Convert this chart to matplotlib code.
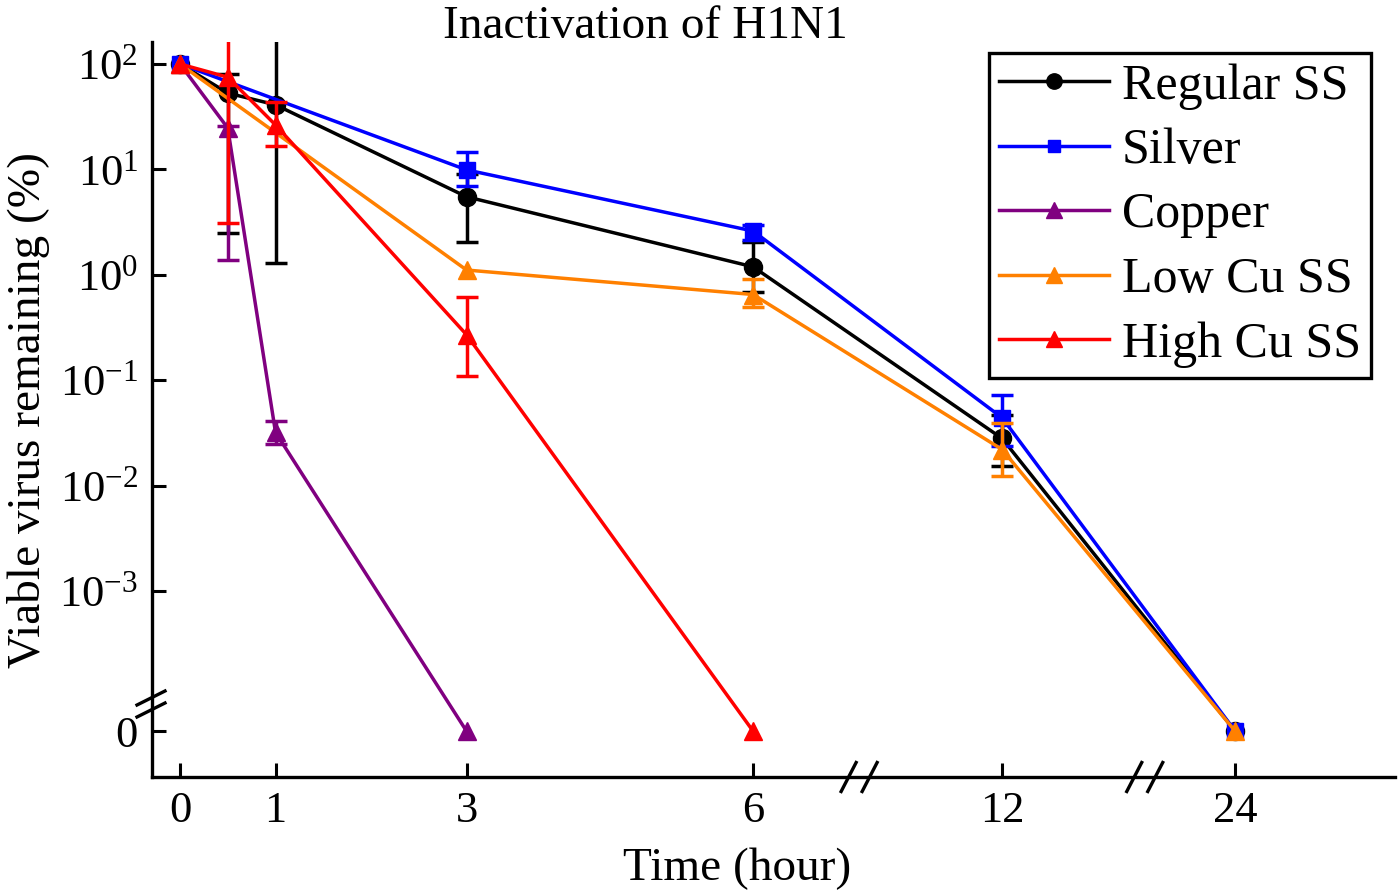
import numpy as np
import matplotlib
matplotlib.use('Agg')
import matplotlib.pyplot as plt

plt.rcParams['font.family'] = 'Liberation Serif'
plt.rcParams['mathtext.fontset'] = 'custom'
plt.rcParams['mathtext.rm'] = 'Liberation Serif'
plt.rcParams['mathtext.it'] = 'Liberation Serif:italic'

nan = np.nan

# data (percent remaining), bounds of error bars given as low / high values
time_ticks = [0, 1, 3, 6, 12, 24]

t_regular = [0, 0.5, 1, 3, 6, 12, 24]
regular = [100, 53, 41, 5.5, 1.19, 0.028, 0]
regular_lo = [nan, 2.5, 1.3, 2.05, 0.69, 0.0153, nan]
regular_hi = [nan, 80, 250, 9.0, 2.05, 0.047, nan]

t_silver = [0, 3, 6, 12, 24]
silver = [100, 9.9, 2.6, 0.044, 0]
silver_lo = [nan, 6.96, 2.14, 0.0235, nan]
silver_hi = [nan, 14.6, 3.0, 0.072, nan]

t_copper = [0, 0.5, 1, 3]
copper = [100, 24.7, 0.032, 0]
copper_lo = [nan, 1.38, 0.025, nan]
copper_hi = [nan, 26, 0.041, nan]

t_lowcu = [0, 3, 6, 12, 24]
lowcu = [100, 1.11, 0.65, 0.022, 0]
lowcu_lo = [nan, nan, 0.495, 0.0123, nan]
lowcu_hi = [nan, nan, 0.91, 0.039, nan]

t_highcu = [0, 0.5, 1, 3, 6]
highcu = [100, 75, 26.4, 0.27, 0]
highcu_lo = [nan, 3.1, 16.6, 0.11, nan]
highcu_hi = [nan, 250, 43.6, 0.62, nan]


# broken x axis: 0-6 linear, then compressed segments for 12 and 24 h
def x_fwd(t):
    t = np.asarray(t, float)
    return np.where(t <= 6, t,
                    np.where(t <= 12, 6 + (t - 6) * 2.607 / 6,
                             8.607 + (t - 12) * 2.44 / 12))


def x_inv(p):
    p = np.asarray(p, float)
    return np.where(p <= 6, p,
                    np.where(p <= 8.607, 6 + (p - 6) * 6 / 2.607,
                             12 + (p - 8.607) * 12 / 2.44))


# broken y axis: log decades, with 0 placed below 1e-3
ZERO_POS = -4.33
FLOOR = 1e-4


def y_fwd(v):
    v = np.asarray(v, float)
    return np.where(v >= FLOOR, np.log10(np.maximum(v, FLOOR)),
                    ZERO_POS + v / FLOOR * (-4 - ZERO_POS))


def y_inv(p):
    p = np.asarray(p, float)
    return np.where(p >= -4, 10.0 ** np.clip(p, -4, 10),
                    (p - ZERO_POS) / (-4 - ZERO_POS) * FLOOR)


fig = plt.figure(figsize=(14, 8.94), dpi=100)
ax = fig.add_axes([152 / 1400, 1 - 777 / 894, 1243 / 1400, 735 / 894])
ax.set_xscale('function', functions=(x_fwd, x_inv))
ax.set_yscale('function', functions=(y_fwd, y_inv))

series = [
    ('Regular SS', t_regular, regular, regular_lo, regular_hi, 'black', 'o', 13),
    ('Silver', t_silver, silver, silver_lo, silver_hi, '#0000ff', 's', 11),
    ('Copper', t_copper, copper, copper_lo, copper_hi, '#800080', '^', 13),
    ('Low Cu SS', t_lowcu, lowcu, lowcu_lo, lowcu_hi, '#ff8000', '^', 13),
    ('High Cu SS', t_highcu, highcu, highcu_lo, highcu_hi, '#ff0000', '^', 13),
]

for name, t, y, lo, hi, col, mk, ms in series:
    t = np.array(t, float)
    y = np.array(y, float)
    lo = np.array(lo, float)
    hi = np.array(hi, float)
    ax.plot(t, y, color=col, lw=2.5, marker=mk, ms=ms, label=name, zorder=3)
    ok = ~np.isnan(lo)
    ax.errorbar(t[ok], y[ok], yerr=[y[ok] - lo[ok], hi[ok] - y[ok]], fmt='none',
                ecolor=col, elinewidth=2.5, capsize=8, capthick=2.5, zorder=3)

ax.set_xlim(-0.293, float(x_inv(12.72)))
ax.set_ylim(float(y_inv(2 - (777 - 64) / 105.4)), float(y_inv(2 + 22 / 105.4)))

ax.set_xticks(time_ticks)
ax.set_xticklabels([str(v) for v in time_ticks])
ytick_vals = [100, 10, 1, 0.1, 0.01, 0.001, 0]
ax.set_yticks(ytick_vals)
ax.set_yticklabels([r'$10^{2}$', r'$10^{1}$', r'$10^{0}$', r'$10^{-1}$',
                    r'$10^{-2}$', r'$10^{-3}$', '0'])
ax.minorticks_off()

for side in ['top', 'right']:
    ax.spines[side].set_visible(False)
for side in ['left', 'bottom']:
    ax.spines[side].set_linewidth(2.4)
ax.tick_params(direction='in', length=10, width=2.2, labelsize=32, pad=10)

ax.set_xlabel('Time (hour)', fontsize=34)
ax.xaxis.set_label_coords((737 - 152) / 1243, -0.096)
ax.set_ylabel('Viable virus remaining (%)', fontsize=34)
ax.yaxis.set_label_coords(-0.082, 0.5)
fig.text(645 / 1400, 1 - 38 / 894, 'Inactivation of H1N1', fontsize=34,
         ha='center', va='baseline')

# axis break marks
W, H = 1243.0, 735.0
for pos in [7.11, 10.10]:
    cx = (pos + 0.293) / (12.72 + 0.293)
    for off in [-10.5, 10.5]:
        x0 = cx + (off - 7.5) / W
        x1 = cx + (off + 7.5) / W
        ax.plot([x0, x1], [-14.5 / H, 14.5 / H], transform=ax.transAxes,
                color='black', lw=2.4, clip_on=False)
cy = (777 - 704) / H
for off in [-6, 6]:
    ax.plot([-15 / W, 13 / W], [cy + (off - 7) / H, cy + (off + 7) / H],
            transform=ax.transAxes, color='black', lw=2.4, clip_on=False)

leg = ax.legend(loc='upper right', bbox_to_anchor=(1371 / 1400, 1 - 53 / 894),
                bbox_transform=fig.transFigure, fontsize=36, handlelength=2.2,
                handletextpad=0.25, labelspacing=0.36, borderpad=0.2,
                borderaxespad=0, markerscale=0.85, fancybox=False,
                framealpha=1, edgecolor='black')
leg.get_frame().set_linewidth(2.4)

fig.savefig('out.png', dpi=100)
